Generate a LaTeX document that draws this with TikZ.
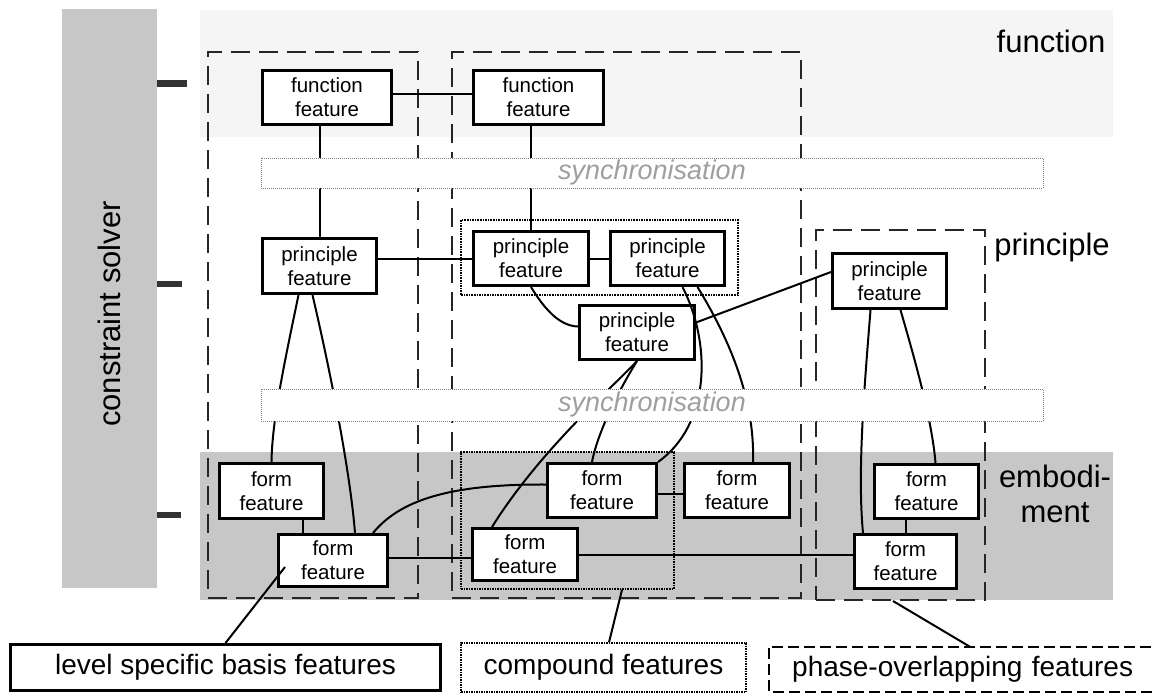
\documentclass[tikz,border=0pt]{standalone}
\usepackage{fontspec}
\setmainfont{Liberation Sans}
\usepackage{tikz}
\usetikzlibrary{calc}
\definecolor{stipple}{gray}{0.78}
\definecolor{faint}{gray}{0.96}
\definecolor{tickgray}{gray}{0.2}
\tikzset{
    featbox/.style={
        draw,
        line width=3pt,
        fill=white,
        align=center,
        inner sep=0pt,
        minimum width=109pt,
        minimum height=54pt,
        font=\fontsize{20.5}{24}\selectfont
    },
    colbox/.style={
        draw=black!85,
        line width=2pt,
        dash pattern=on 19pt off 9pt,
        inner sep=0pt
    },
    cmpbox/.style={
        draw,
        line width=1.6pt,
        densely dotted,
        inner sep=0pt
    },
    syncbar/.style={
        draw=gray,
        line width=1pt,
        densely dotted,
        fill=white,
        minimum width=782pt,
        inner sep=0pt,
        text=gray!75,
        font=\fontsize{27}{30}\selectfont\itshape
    },
    link/.style={line width=2pt},
    lvllabel/.style={font=\fontsize{31}{35}\selectfont, inner sep=0pt, align=center},
    legbox/.style={
        minimum height=46pt,
        inner sep=0pt,
        font=\fontsize{28}{32}\selectfont
    }
}

\begin{document}
\begin{tikzpicture}[x=1pt, y=-1pt]
    \useasboundingbox (0,0) rectangle (1154,694);

    % shaded levels and the solver bar
    \fill[faint] (200,10) rectangle (1113,137);
    \fill[stipple] (200,452) rectangle (1113,600);
    \fill[stipple] (62,9) rectangle (157,588);
    \fill[tickgray] (157,80) rectangle (187,87);
    \fill[tickgray] (157,281) rectangle (182,287);
    \fill[tickgray] (157,512) rectangle (181,518);
    \node[lvllabel, rotate=90] (solver) at (109,314) {constraint solver};

    \node[lvllabel, anchor=base] (funlbl) at (1051,52) {function};
    \node[lvllabel, anchor=base] (prilbl) at (1052,255) {principle};
    \node[lvllabel] (emblbl) at (1055,494) {embodi-\\ment};

    \node[colbox, minimum width=210pt, minimum height=546pt] (lvlcol) at (313,325) {};
    \node[colbox, minimum width=349pt, minimum height=546pt] (cmpcol) at (626.5,325) {};
    \node[colbox, minimum width=169pt, minimum height=370pt] (phcol) at (900.5,415) {};
    \node[cmpbox, minimum width=277pt, minimum height=75pt] (cmpup) at (599.5,257.5) {};
    \node[cmpbox, minimum width=213pt, minimum height=137pt] (cmplow) at (567.5,520.5) {};

    \node[featbox, minimum width=129pt] (f1) at (327,97.5) {function\\feature};
    \node[featbox, minimum width=130pt] (f2) at (538.5,97.5) {function\\feature};
    \node[featbox, minimum width=114pt, minimum height=55pt] (p1) at (319.5,266) {principle\\feature};
    \node[featbox, minimum width=115pt] (p2) at (531,258.5) {principle\\feature};
    \node[featbox, minimum width=114pt] (p3) at (667.5,258.5) {principle\\feature};
    \node[featbox, minimum width=115pt] (p4) at (637,332.5) {principle\\feature};
    \node[featbox, minimum width=114pt, minimum height=55pt] (p5) at (889.5,281) {principle\\feature};
    \node[featbox, minimum width=104pt, minimum height=55pt] (fo1) at (271.5,491) {form\\feature};
    \node[featbox, minimum height=52pt] (fo2) at (333,560.5) {form\\feature};
    \node[featbox] (fo3) at (602,490.5) {form\\feature};
    \node[featbox, minimum width=105pt] (fo4) at (737,490.5) {form\\feature};
    \node[featbox, minimum width=105pt, minimum height=52pt] (fo5) at (525,554.5) {form\\feature};
    \node[featbox, minimum width=104pt] (fo6) at (926.5,491.5) {form\\feature};
    \node[featbox, minimum width=102pt] (fo7) at (905.5,561.5) {form\\feature};

    \draw[link] ([yshift=4pt]f1.east) -- ([yshift=4pt]f2.west);
    \draw[link] (p1.north |- f1.south) -- (p1.north);
    \draw[link] (p2.north |- f2.south) -- (p2.north);
    \draw[link] (p1.east |- p2.west) -- (p2.west);
    \draw[link] (p2) -- (p3);
    \draw[link] (p2.south) .. controls (545,310) and (560,326) .. ([yshift=6pt]p4.west);
    \draw[link] ([yshift=10pt]p4.east) -- ([yshift=9pt]p5.west);
    \draw[link] ([xshift=15pt]p3.south) .. controls (712,345) and (710,425) .. (fo3.north east);
    \draw[link] ([xshift=30pt]p3.south) .. controls (730,340) and (755,400) .. ([xshift=16pt]fo4.north);
    \draw[link] (p4.south) .. controls (615,385) and (540,450) .. ([xshift=-33pt]fo5.north);
    \draw[link] (p4.south) .. controls (622,385) and (598,430) .. ([xshift=-10pt]fo3.north);
    \draw[link] ([xshift=-19pt]p5.south) .. controls (865,380) and (857,470) .. ([xshift=-42.5pt]fo7.north);
    \draw[link] ([xshift=11pt]p5.south) .. controls (915,360) and (932,420) .. ([xshift=9pt]fo6.north);
    \draw[link] ([xshift=-21pt]p1.south) .. controls (285,360) and (272,420) .. (fo1.north);
    \draw[link] ([xshift=-7pt]p1.south) .. controls (330,370) and (350,470) .. ([xshift=22pt]fo2.north);
    \draw[link] ([xshift=31pt]fo1.south) -- ([xshift=31pt]fo1.south |- fo2.north);
    \draw[link] ([xshift=40pt]fo2.north) .. controls (400,500) and (450,484) .. ([yshift=6pt]fo3.west);
    \draw[link] (fo2.east |- fo5.west) ++(0,3.5) -- ([yshift=-3.5pt]fo5.west);
    \draw[link] (fo5.east) -- (fo5.east -| fo7.west);
    \draw[link] ([yshift=-3pt]fo3.east) -- ([yshift=-3pt]fo3.east -| fo4.west);
    \draw[link] (fo7.north |- fo6.south) -- (fo7.north);

    % synchronisation bars lie over the links
    \node[syncbar, minimum height=30pt] (sync1) at (652,173) {synchronisation};
    \node[syncbar, minimum height=32pt] (sync2) at (652,405) {synchronisation};

    \node[legbox, draw, line width=3pt, minimum width=430pt] (lsb) at (225.5,667.5) {level specific basis features};
    \node[legbox, draw, line width=1.5pt, densely dotted, minimum width=285pt, minimum height=49pt] (cmpl) at (603.5,667.5) {compound features};
    \node[legbox, anchor=west, minimum height=45pt, text width=400pt, inner xsep=23pt, align=left] (phl) at (769,669.5) {phase-overlapping features};
    \draw[line width=1.8pt, dash pattern=on 11pt off 5pt] (phl.north east) -- (phl.north west) -- (phl.south west) -- (phl.south east); % open to the right

    \draw[link] (lsb.north) -- ([xshift=8pt,yshift=-6.5pt]fo2.west);
    \draw[link] ([xshift=5.5pt]cmpl.north) -- ([xshift=54.5pt]cmplow.south);
    \draw[link] (phl.north -| 970,0) -- ([xshift=-7.5pt]phcol.south);
\end{tikzpicture}
\end{document}
